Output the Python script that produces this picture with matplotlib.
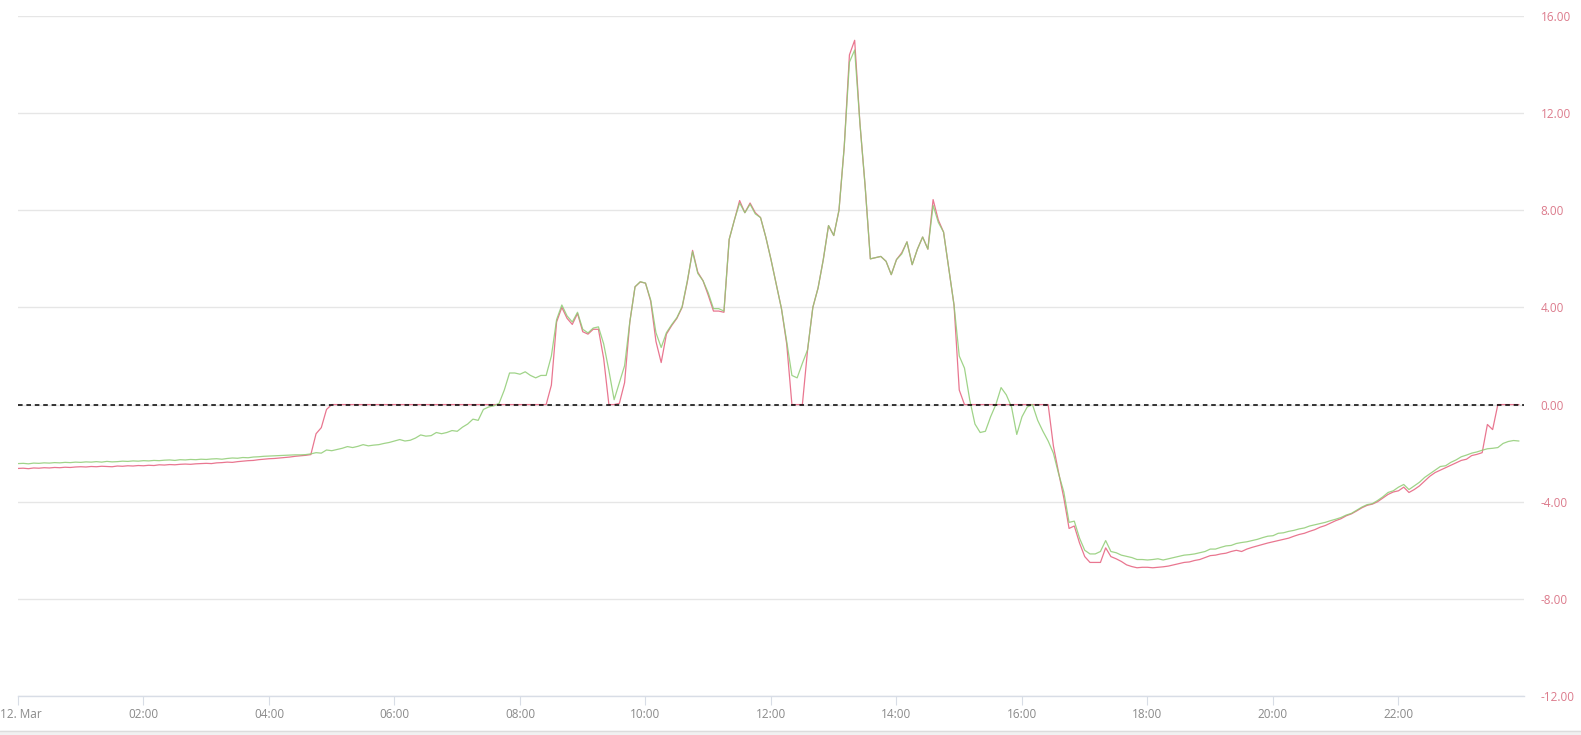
import matplotlib
matplotlib.use("Agg")
import matplotlib.pyplot as plt
import matplotlib.patches as mpatches
import matplotlib.transforms as mtransforms
import numpy as np

# 5-minute readings, one row per hour (00:00 .. 23:55)
red_values = [
    -2.63, -2.62, -2.64, -2.61, -2.62, -2.60, -2.61, -2.59, -2.60, -2.58, -2.59, -2.57,
    -2.56, -2.57, -2.55, -2.56, -2.54, -2.55, -2.56, -2.53, -2.54, -2.52, -2.53, -2.51,
    -2.52, -2.50, -2.51, -2.48, -2.49, -2.47, -2.48, -2.46, -2.45, -2.46, -2.44, -2.43,
    -2.42, -2.43, -2.40, -2.39, -2.37, -2.38, -2.35, -2.33, -2.31, -2.30, -2.27, -2.25,
    -2.23, -2.22, -2.20, -2.18, -2.16, -2.13, -2.11, -2.09, -2.06, -1.20, -0.95, -0.20,
    0, 0, 0, 0, 0, 0, 0, 0, 0, 0, 0, 0,
    0, 0, 0, 0, 0, 0, 0, 0, 0, 0, 0, 0,
    0, 0, 0, 0, 0, 0, 0, 0, 0, 0, 0, 0,
    0, 0, 0, 0, 0, 0, 0.8, 3.4, 4.0, 3.55, 3.3, 3.75,
    3.0, 2.9, 3.1, 3.1, 1.9, 0, 0, 0.05, 0.9, 3.4, 4.85, 5.05,
    5.0, 4.25, 2.6, 1.73, 2.9, 3.25, 3.55, 4.0, 5.05, 6.35, 5.45, 5.1,
    4.5, 3.85, 3.85, 3.8, 6.8, 7.6, 8.4, 7.9, 8.3, 7.9, 7.7, 6.9,
    5.97, 4.95, 3.95, 2.5, 0, 0, 0, 2.26, 4.0, 4.8, 5.97, 7.37,
    6.96, 8.0, 10.6, 14.4, 15.0, 11.6, 9.0, 6.0, 6.05, 6.1, 5.9, 5.35,
    5.97, 6.25, 6.7, 5.76, 6.4, 6.9, 6.4, 8.44, 7.6, 7.1, 5.6, 4.1,
    0.6, 0, 0, 0, 0, 0, 0, 0, 0, 0, 0, 0,
    0, 0, 0, 0, 0, 0, -1.7, -2.8, -3.85, -5.1, -5.0, -5.7,
    -6.26, -6.5, -6.5, -6.5, -5.9, -6.26, -6.35, -6.46, -6.6, -6.67, -6.72, -6.7,
    -6.7, -6.72, -6.7, -6.68, -6.65, -6.6, -6.55, -6.5, -6.48, -6.42, -6.38, -6.3,
    -6.22, -6.2, -6.15, -6.12, -6.05, -6.0, -6.05, -5.95, -5.88, -5.82, -5.76, -5.7,
    -5.65, -5.6, -5.55, -5.5, -5.42, -5.35, -5.3, -5.22, -5.15, -5.05, -4.98, -4.88,
    -4.78, -4.7, -4.58, -4.5, -4.38, -4.25, -4.15, -4.1, -4.0, -3.85, -3.7, -3.6,
    -3.55, -3.4, -3.62, -3.5, -3.35, -3.15, -2.95, -2.8, -2.7, -2.6, -2.5, -2.4,
    -2.3, -2.25, -2.1, -2.05, -1.98, -0.82, -1.03, 0, 0, 0, 0, 0,
]

green_values = [
    -2.43, -2.42, -2.44, -2.41, -2.42, -2.40, -2.41, -2.39, -2.40, -2.38, -2.39, -2.37,
    -2.38, -2.36, -2.37, -2.35, -2.37, -2.34, -2.36, -2.35, -2.33, -2.34, -2.32, -2.33,
    -2.31, -2.32, -2.30, -2.31, -2.29, -2.28, -2.30, -2.27, -2.28, -2.26, -2.27, -2.25,
    -2.26, -2.24, -2.23, -2.25, -2.22, -2.20, -2.21, -2.18, -2.19, -2.16, -2.15, -2.13,
    -2.12, -2.11, -2.10, -2.09, -2.08, -2.07, -2.07, -2.06, -2.03, -1.98, -2.0, -1.87,
    -1.9, -1.85, -1.8, -1.73, -1.77, -1.72, -1.65, -1.7, -1.67, -1.65, -1.6, -1.56,
    -1.5, -1.44, -1.5, -1.47, -1.38, -1.25, -1.3, -1.28, -1.15, -1.2, -1.15, -1.07,
    -1.1, -0.93, -0.8, -0.6, -0.65, -0.2, -0.1, -0.05, 0.05, 0.6, 1.3, 1.3,
    1.25, 1.35, 1.2, 1.1, 1.2, 1.2, 2.0, 3.5, 4.1, 3.65, 3.4, 3.8,
    3.1, 2.95, 3.15, 3.2, 2.5, 1.4, 0.2, 0.9, 1.6, 3.4, 4.85, 5.06,
    5.0, 4.3, 2.96, 2.35, 2.96, 3.29, 3.58, 4.03, 5.1, 6.3, 5.4, 5.1,
    4.6, 3.95, 3.95, 3.85, 6.8, 7.6, 8.3, 7.9, 8.25, 7.85, 7.7, 6.9,
    5.97, 4.95, 3.95, 2.6, 1.2, 1.1, 1.7, 2.26, 4.0, 4.8, 5.97, 7.37,
    6.96, 8.0, 10.6, 14.1, 14.6, 11.6, 9.0, 6.0, 6.05, 6.1, 5.9, 5.35,
    5.97, 6.2, 6.7, 5.76, 6.4, 6.9, 6.4, 8.2, 7.5, 7.1, 5.6, 4.1,
    2.0, 1.5, 0.2, -0.8, -1.15, -1.1, -0.5, 0.0, 0.7, 0.4, -0.1, -1.23,
    -0.5, -0.1, 0.0, -0.65, -1.1, -1.5, -2.0, -2.85, -3.6, -4.85, -4.8, -5.5,
    -6.0, -6.15, -6.15, -6.05, -5.6, -6.05, -6.1, -6.2, -6.25, -6.3, -6.38, -6.38,
    -6.4, -6.38, -6.35, -6.4, -6.35, -6.3, -6.25, -6.2, -6.18, -6.15, -6.1, -6.05,
    -5.95, -5.95, -5.88, -5.82, -5.8, -5.72, -5.68, -5.65, -5.6, -5.55, -5.48, -5.42,
    -5.4, -5.3, -5.28, -5.22, -5.18, -5.12, -5.08, -5.0, -4.95, -4.9, -4.85, -4.78,
    -4.72, -4.65, -4.55, -4.48, -4.35, -4.22, -4.12, -4.08, -3.95, -3.8, -3.62, -3.55,
    -3.4, -3.29, -3.5, -3.35, -3.2, -3.0, -2.85, -2.7, -2.55, -2.52, -2.38, -2.28,
    -2.15, -2.08, -2.0, -1.95, -1.88, -1.82, -1.8, -1.77, -1.6, -1.52, -1.48, -1.5,
]

hours = np.arange(len(red_values)) / 12.0

tick_hours = [0, 2, 4, 6, 8, 10, 12, 14, 16, 18, 20, 22]
tick_labels = ["12. Mar", "02:00", "04:00", "06:00", "08:00", "10:00",
               "12:00", "14:00", "16:00", "18:00", "20:00", "22:00"]
y_ticks = [-12, -8, -4, 0, 4, 8, 12, 16]

red_color = "#e86f8a"
green_color = "#8fcc74"
grid_color = "#e6e6e6"

plt.rcParams["font.family"] = ["Open Sans", "DejaVu Sans"]

W, H = 1581, 735
fig = plt.figure(figsize=(W / 100, H / 100), dpi=100)
ax = fig.add_axes([18 / W, 39 / H, (1524 - 18) / W, 680 / H])

# background grid
for y in y_ticks:
    ax.axhline(y, color=grid_color, lw=1.0, zorder=0)

ax.plot(hours, red_values, color=red_color, lw=0.9, alpha=0.95, zorder=2)
ax.plot(hours, green_values, color=green_color, lw=0.9, alpha=0.85, zorder=3)

# zero reference
ax.axhline(0, color="black", lw=1.1, ls=(0, (3, 2.5)), zorder=4)

ax.set_xlim(0, 24)
ax.set_ylim(-12, 16)

for side in ["top", "left", "right"]:
    ax.spines[side].set_visible(False)
ax.spines["bottom"].set_color("#d8dde6")
ax.spines["bottom"].set_linewidth(1.0)

ax.set_xticks(tick_hours)
ax.set_xticklabels(tick_labels)
ax.tick_params(axis="x", length=6.5, width=0.8, color="#d8dde6",
               labelcolor="#8a8a8a", labelsize=8.5, pad=2)

# keep the first date label inside the figure
first = ax.get_xticklabels()[0]
first.set_transform(first.get_transform() +
                    mtransforms.ScaledTranslation(3 / 100, 0, fig.dpi_scale_trans))

ax.yaxis.tick_right()
ax.set_yticks(y_ticks)
ax.set_yticklabels(["%.2f" % v for v in y_ticks])
ax.tick_params(axis="y", length=0, labelcolor="#dc7b8c", labelsize=8.5, pad=12)

# thin grey strip at the very bottom
fig.patches.append(mpatches.Rectangle((0, 0), 1, 4 / H, transform=fig.transFigure,
                                      color="#f1f1f1", zorder=0))
fig.add_artist(plt.Line2D([0, 1], [4 / H, 4 / H], transform=fig.transFigure,
                          color="#dddddd", lw=1))

fig.savefig("out.png", dpi=100)
